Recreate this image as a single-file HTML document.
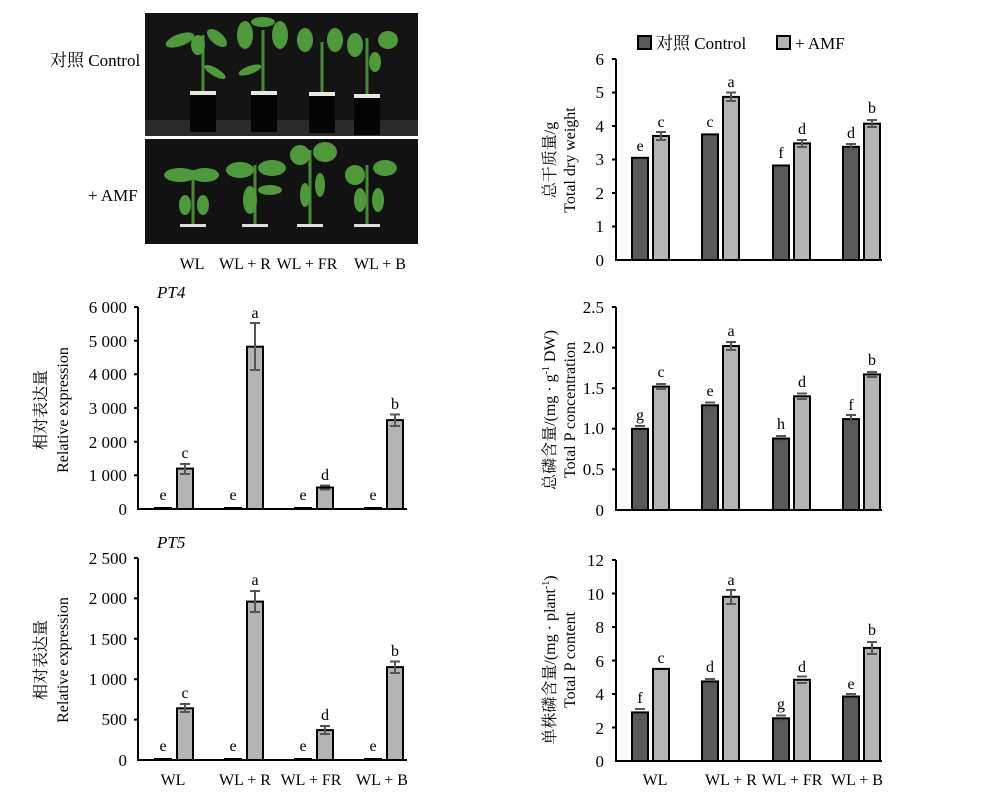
<!DOCTYPE html>
<html><head><meta charset="utf-8"><style>
body{margin:0;background:#fff}
svg{display:block}
text{font-family:"Liberation Serif","Noto Serif CJK SC","Noto Sans CJK SC",serif;fill:#000}
.t{font-size:17px}
.l{font-size:16px;text-anchor:middle}
.y{font-size:16px;text-anchor:middle}
.ax{stroke:#000;stroke-width:2;fill:none}
.d{fill:#5a5a5a;stroke:#000;stroke-width:2}
.g{fill:#b4b4b4;stroke:#000;stroke-width:2}
.e{stroke:#555;stroke-width:2;fill:none}
.lf{fill:#4e9a3a}
.st{stroke:#4a8a35;stroke-width:3;fill:none}
</style></head><body>
<svg width="1000" height="807" viewBox="0 0 1000 807">
<rect x="145" y="13" width="273" height="123" fill="#141414"/>
<rect x="145" y="120" width="273" height="16" fill="#2a2a2a"/>
<rect x="145" y="139" width="273" height="105" fill="#121212"/>
<g>
<path class="st" d="M203 96 V35 M263 96 V30 M322 96 V42 M367 96 V38"/>
<ellipse class="lf" cx="180" cy="40" rx="15" ry="6" transform="rotate(-20 180 40)"/>
<ellipse class="lf" cx="217" cy="38" rx="12" ry="6" transform="rotate(40 217 38)"/>
<ellipse class="lf" cx="198" cy="45" rx="7" ry="10"/>
<ellipse class="lf" cx="215" cy="72" rx="12" ry="4" transform="rotate(30 215 72)"/>
<ellipse class="lf" cx="245" cy="35" rx="8" ry="14"/>
<ellipse class="lf" cx="280" cy="35" rx="8" ry="14"/>
<ellipse class="lf" cx="263" cy="22" rx="12" ry="5"/>
<ellipse class="lf" cx="250" cy="70" rx="12" ry="4" transform="rotate(-20 250 70)"/>
<ellipse class="lf" cx="305" cy="40" rx="8" ry="12"/>
<ellipse class="lf" cx="335" cy="40" rx="8" ry="12"/>
<ellipse class="lf" cx="355" cy="45" rx="8" ry="12"/>
<ellipse class="lf" cx="388" cy="40" rx="10" ry="9"/>
<ellipse class="lf" cx="375" cy="62" rx="6" ry="10"/>
<rect x="190" y="92" width="26" height="40" fill="#050505"/><rect x="190" y="91" width="26" height="4" fill="#e8e8e0"/>
<rect x="251" y="92" width="26" height="40" fill="#050505"/><rect x="251" y="91" width="26" height="4" fill="#e8e8e0"/>
<rect x="309" y="93" width="26" height="40" fill="#050505"/><rect x="309" y="92" width="26" height="4" fill="#e8e8e0"/>
<rect x="354" y="95" width="26" height="40" fill="#050505"/><rect x="354" y="94" width="26" height="4" fill="#e8e8e0"/>
<path class="st" d="M193 225 V170 M255 225 V165 M310 225 V150 M367 225 V165"/>
<ellipse class="lf" cx="180" cy="175" rx="16" ry="7"/><ellipse class="lf" cx="205" cy="175" rx="14" ry="7"/>
<ellipse class="lf" cx="185" cy="205" rx="6" ry="10"/><ellipse class="lf" cx="203" cy="205" rx="6" ry="10"/>
<ellipse class="lf" cx="240" cy="170" rx="14" ry="8"/><ellipse class="lf" cx="272" cy="168" rx="14" ry="8"/>
<ellipse class="lf" cx="250" cy="200" rx="7" ry="14"/><ellipse class="lf" cx="270" cy="190" rx="12" ry="5"/>
<ellipse class="lf" cx="300" cy="155" rx="10" ry="10"/><ellipse class="lf" cx="325" cy="152" rx="12" ry="10"/>
<ellipse class="lf" cx="305" cy="195" rx="5" ry="12"/><ellipse class="lf" cx="320" cy="185" rx="5" ry="12"/>
<ellipse class="lf" cx="355" cy="175" rx="10" ry="10"/><ellipse class="lf" cx="385" cy="168" rx="12" ry="8"/>
<ellipse class="lf" cx="360" cy="200" rx="6" ry="12"/><ellipse class="lf" cx="378" cy="200" rx="6" ry="12"/>
<rect x="180" y="224" width="26" height="3" fill="#ddd"/><rect x="242" y="224" width="26" height="3" fill="#ddd"/>
<rect x="297" y="224" width="26" height="3" fill="#ddd"/><rect x="354" y="224" width="26" height="3" fill="#ddd"/>
</g>
<text class="t" x="50" y="66" font-size="15">对照 Control</text>
<text class="t" x="88" y="201" font-size="15">+ AMF</text>
<text class="l" x="192" y="269">WL</text><text class="l" x="245" y="269">WL + R</text>
<text class="l" x="307" y="269">WL + FR</text><text class="l" x="380" y="269">WL + B</text>

<rect x="638" y="36" width="13" height="13" class="d" stroke-width="1"/>
<text class="t" x="656" y="49" font-size="16">对照 Control</text>
<rect x="777" y="36" width="13" height="13" class="g" stroke-width="1"/>
<text class="t" x="795" y="49" font-size="16">+ AMF</text>

<g>
<path class="ax" d="M616 59 V260 H882 M612 59 H616 M612 92.5 H616 M612 126 H616 M612 159.5 H616 M612 193 H616 M612 226.5 H616"/>
<g class="t" text-anchor="end"><text x="604" y="65">6</text><text x="604" y="98">5</text><text x="604" y="132">4</text><text x="604" y="165">3</text><text x="604" y="199">2</text><text x="604" y="232">1</text><text x="604" y="266">0</text></g>
<rect class="d" x="632" y="157.8" width="16" height="102.2"/><rect class="g" x="653" y="136" width="16" height="124"/>
<rect class="d" x="702" y="134.4" width="16" height="125.6"/><rect class="g" x="723" y="96.9" width="16" height="163.1"/>
<rect class="d" x="773" y="165.5" width="16" height="94.5"/><rect class="g" x="794" y="143.4" width="16" height="116.6"/>
<rect class="d" x="843" y="146.8" width="16" height="113.2"/><rect class="g" x="864" y="123.7" width="16" height="136.3"/>
<path class="e" d="M656 132 H666 M661 132 V140 M656 140 H666 M726 92.5 H736 M731 92.5 V101 M726 101 H736 M797 140 H807 M802 140 V147 M797 147 H807 M867 120 H877 M872 120 V127 M867 127 H877 M846 144 H856 M851 144 V150 M846 150 H856"/>
<g class="l"><text x="640" y="151">e</text><text x="661" y="127">c</text><text x="710" y="127">c</text><text x="731" y="87">a</text><text x="781" y="158">f</text><text x="802" y="134">d</text><text x="851" y="138">d</text><text x="872" y="113">b</text></g>
<text class="y" transform="translate(555 160) rotate(-90)">总干质量/g</text>
<text class="y" transform="translate(575 160) rotate(-90)">Total dry weight</text>
</g>

<g>
<path class="ax" d="M616 307 V510 H882 M612 307 H616 M612 347.6 H616 M612 388.2 H616 M612 428.8 H616 M612 469.4 H616"/>
<g class="t" text-anchor="end"><text x="604" y="313">2.5</text><text x="604" y="353">2.0</text><text x="604" y="394">1.5</text><text x="604" y="434">1.0</text><text x="604" y="475">0.5</text><text x="604" y="516">0</text></g>
<rect class="d" x="632" y="428.8" width="16" height="81.2"/><rect class="g" x="653" y="386.6" width="16" height="123.4"/>
<rect class="d" x="702" y="405.3" width="16" height="104.7"/><rect class="g" x="723" y="346" width="16" height="164"/>
<rect class="d" x="773" y="438.5" width="16" height="71.5"/><rect class="g" x="794" y="396.3" width="16" height="113.7"/>
<rect class="d" x="843" y="419.1" width="16" height="90.9"/><rect class="g" x="864" y="374.4" width="16" height="135.6"/>
<path class="e" d="M635 426 H645 M635 431 H645 M656 384 H666 M656 389 H666 M705 402.5 H715 M705 408 H715 M726 342 H736 M731 342 V350 M726 350 H736 M776 436 H786 M776 441 H786 M797 393.5 H807 M797 399 H807 M846 415 H856 M851 415 V423 M846 423 H856 M867 372 H877 M867 377 H877"/>
<g class="l"><text x="640" y="420">g</text><text x="661" y="377">c</text><text x="710" y="396">e</text><text x="731" y="336">a</text><text x="781" y="429">h</text><text x="802" y="387">d</text><text x="851" y="410">f</text><text x="872" y="365">b</text></g>
<text class="y" transform="translate(555 410) rotate(-90)">总磷含量/(mg · g<tspan font-size="10" dy="-6">-1</tspan><tspan dy="6"> DW)</tspan></text>
<text class="y" transform="translate(575 410) rotate(-90)">Total P concentration</text>
</g>

<g>
<path class="ax" d="M616 560 V761 H882 M612 560 H616 M612 593.5 H616 M612 627 H616 M612 660.5 H616 M612 694 H616 M612 727.5 H616"/>
<g class="t" text-anchor="end"><text x="604" y="566">12</text><text x="604" y="600">10</text><text x="604" y="633">8</text><text x="604" y="667">6</text><text x="604" y="700">4</text><text x="604" y="734">2</text><text x="604" y="767">0</text></g>
<rect class="d" x="632" y="712.4" width="16" height="48.6"/><rect class="g" x="653" y="668.9" width="16" height="92.1"/>
<rect class="d" x="702" y="681.4" width="16" height="79.6"/><rect class="g" x="723" y="596.8" width="16" height="164.2"/>
<rect class="d" x="773" y="718.3" width="16" height="42.7"/><rect class="g" x="794" y="679.8" width="16" height="81.2"/>
<rect class="d" x="843" y="696.5" width="16" height="64.5"/><rect class="g" x="864" y="647.9" width="16" height="113.1"/>
<path class="e" d="M635 709 H645 M635 716 H645 M705 679 H715 M705 684 H715 M726 590 H736 M731 590 V604 M726 604 H736 M776 715.5 H786 M776 721 H786 M797 676.5 H807 M797 683 H807 M846 694 H856 M846 699 H856 M867 642 H877 M872 642 V654 M867 654 H877"/>
<g class="l"><text x="640" y="703">f</text><text x="661" y="663">c</text><text x="710" y="672">d</text><text x="731" y="585">a</text><text x="781" y="709">g</text><text x="802" y="672">d</text><text x="851" y="689">e</text><text x="872" y="635">b</text></g>
<text class="y" transform="translate(555 660) rotate(-90)">单株磷含量/(mg · plant<tspan font-size="10" dy="-6">-1</tspan><tspan dy="6">)</tspan></text>
<text class="y" transform="translate(575 660) rotate(-90)">Total P content</text>
<g class="l"><text x="655" y="785">WL</text><text x="731" y="785">WL + R</text><text x="792" y="785">WL + FR</text><text x="857" y="785">WL + B</text></g>
</g>

<g>
<path class="ax" d="M138 307 V509 H407 M134 307 H138 M134 340.7 H138 M134 374.3 H138 M134 408 H138 M134 441.7 H138 M134 475.3 H138"/>
<g class="t" text-anchor="end"><text x="127" y="313">6 000</text><text x="127" y="347">5 000</text><text x="127" y="380">4 000</text><text x="127" y="414">3 000</text><text x="127" y="448">2 000</text><text x="127" y="481">1 000</text><text x="127" y="515">0</text></g>
<text class="t" x="157" y="298" font-style="italic" font-size="16">PT4</text>
<rect class="d" x="155" y="508" width="16" height="1"/><rect class="g" x="177" y="468.6" width="16" height="40.4"/>
<rect class="d" x="225" y="508" width="16" height="1"/><rect class="g" x="247" y="346.7" width="16" height="162.3"/>
<rect class="d" x="295" y="508" width="16" height="1"/><rect class="g" x="317" y="487.5" width="16" height="21.5"/>
<rect class="d" x="365" y="508" width="16" height="1"/><rect class="g" x="387" y="420.1" width="16" height="88.9"/>
<path class="e" d="M180 464 H190 M185 464 V474 M180 474 H190 M250 323 H260 M255 323 V370 M250 370 H260 M320 485.5 H330 M320 489.5 H330 M390 414.5 H400 M395 414.5 V426 M390 426 H400"/>
<g class="l"><text x="163" y="500">e</text><text x="185" y="458">c</text><text x="233" y="500">e</text><text x="255" y="318">a</text><text x="303" y="500">e</text><text x="325" y="480">d</text><text x="373" y="500">e</text><text x="395" y="409">b</text></g>
<text class="y" transform="translate(46 410) rotate(-90)">相对表达量</text>
<text class="y" transform="translate(68 410) rotate(-90)">Relative expression</text>
</g>

<g>
<path class="ax" d="M138 558 V760 H407 M134 558 H138 M134 598.4 H138 M134 638.8 H138 M134 679.2 H138 M134 719.6 H138"/>
<g class="t" text-anchor="end"><text x="127" y="564">2 500</text><text x="127" y="604">2 000</text><text x="127" y="645">1 500</text><text x="127" y="685">1 000</text><text x="127" y="725">500</text><text x="127" y="766">0</text></g>
<text class="t" x="157" y="548" font-style="italic" font-size="16">PT5</text>
<rect class="d" x="155" y="759" width="16" height="1"/><rect class="g" x="177" y="708.3" width="16" height="51.7"/>
<rect class="d" x="225" y="759" width="16" height="1"/><rect class="g" x="247" y="601.6" width="16" height="158.4"/>
<rect class="d" x="295" y="759" width="16" height="1"/><rect class="g" x="317" y="730.1" width="16" height="29.9"/>
<rect class="d" x="365" y="759" width="16" height="1"/><rect class="g" x="387" y="667.1" width="16" height="92.9"/>
<path class="e" d="M180 704 H190 M185 704 V712 M180 712 H190 M250 591 H260 M255 591 V612 M250 612 H260 M320 726 H330 M325 726 V734 M320 734 H330 M390 661.5 H400 M395 661.5 V673 M390 673 H400"/>
<g class="l"><text x="163" y="751">e</text><text x="185" y="698">c</text><text x="233" y="751">e</text><text x="255" y="585">a</text><text x="303" y="751">e</text><text x="325" y="720">d</text><text x="373" y="751">e</text><text x="395" y="656">b</text></g>
<text class="y" transform="translate(46 660) rotate(-90)">相对表达量</text>
<text class="y" transform="translate(68 660) rotate(-90)">Relative expression</text>
<g class="l"><text x="173" y="785">WL</text><text x="245" y="785">WL + R</text><text x="311" y="785">WL + FR</text><text x="382" y="785">WL + B</text></g>
</g>
</svg>
</body></html>
